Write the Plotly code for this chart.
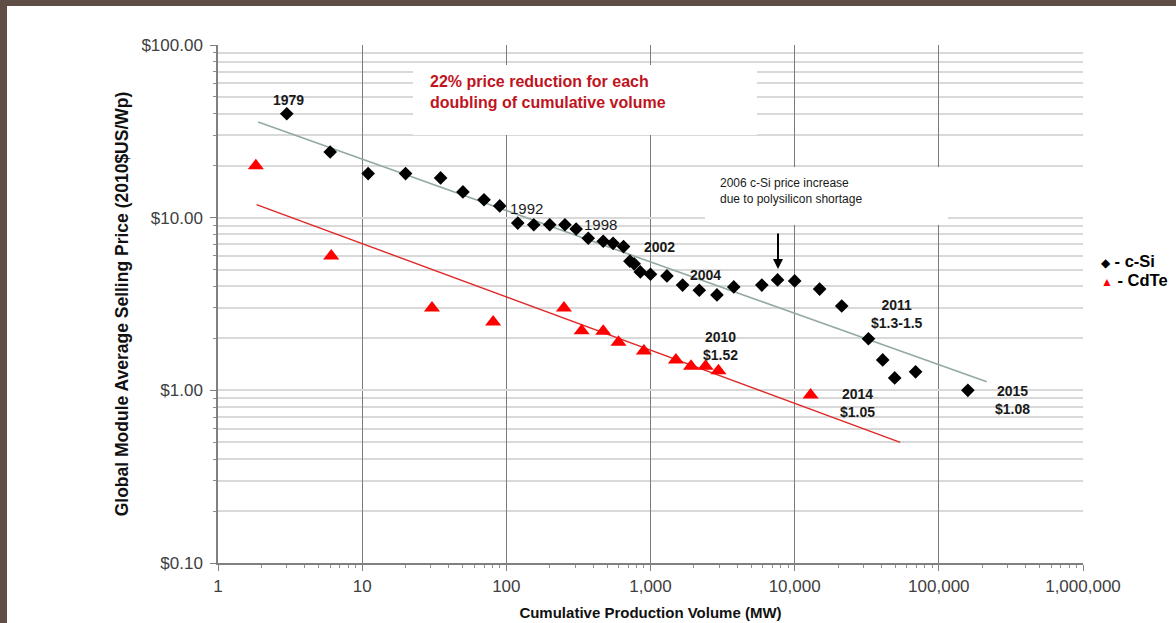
import plotly.graph_objects as go

# ---------------- data ----------------
csi_volume_mw = [3, 6, 11, 20, 35, 50, 70, 90, 120, 155, 200, 255, 305, 370, 470, 550,
                 650, 720, 770, 850, 1000, 1300, 1670, 2180, 2890, 3780, 5920, 7610,
                 10000, 14900, 21200, 32500, 40800, 49400, 69000, 159000]
csi_price = [40, 24, 18, 18, 17, 14.1, 12.7, 11.7, 9.3, 9.1, 9.1, 9.1, 8.6, 7.6, 7.3, 7.1,
             6.8, 5.6, 5.4, 4.85, 4.7, 4.6, 4.07, 3.8, 3.57, 3.97, 4.07, 4.36,
             4.3, 3.86, 3.08, 1.99, 1.5, 1.18, 1.28, 1.0]

cdte_volume_mw = [1.83, 6.1, 30.5, 81, 251, 333, 470, 600, 900, 1500, 1910, 2410, 2960, 12900]
cdte_price = [20, 6.0, 3.0, 2.49, 3.0, 2.21, 2.2, 1.9, 1.69, 1.5, 1.38, 1.38, 1.30, 0.94]

csi_trend_x = [1.9, 215000]
csi_trend_y = [35.8, 1.12]
cdte_trend_x = [1.85, 54000]
cdte_trend_y = [11.9, 0.50]

x_tickvals = [1, 10, 100, 1000, 10000, 100000, 1000000]
x_ticktext = ["1", "10", "100", "1,000", "10,000", "100,000", "1,000,000"]
y_tickvals = [0.1, 1, 10, 100]
y_ticktext = ["$0.10", "$1.00", "$10.00", "$100.00"]

# ---------------- layout geometry (pixels) ----------------
W, H = 1176, 623
L, R, T, B = 218, 1083, 45, 563


def px(x):
    return (x - L) / (R - L)


def py(y):
    return (B - y) / (B - T)


FONT = "Arial, Liberation Sans, sans-serif"

y_minor = [m * 10 ** e for e in (-1, 0, 1) for m in range(2, 10)]
x_minor = [m * 10 ** e for e in range(0, 6) for m in range(2, 10)]

fig = go.Figure()

fig.add_trace(go.Scatter(x=csi_trend_x, y=csi_trend_y, mode="lines",
                         line=dict(color="#93aaa2", width=1.6), showlegend=False,
                         hoverinfo="skip"))
fig.add_trace(go.Scatter(x=cdte_trend_x, y=cdte_trend_y, mode="lines",
                         line=dict(color="#e02828", width=1.4), showlegend=False,
                         hoverinfo="skip"))
fig.add_trace(go.Scatter(x=csi_volume_mw, y=csi_price, mode="markers", name="c-Si",
                         marker=dict(symbol="diamond", size=10.5, color="#000000"),
                         showlegend=False))
fig.add_trace(go.Scatter(x=cdte_volume_mw, y=cdte_price, mode="markers", name="CdTe",
                         marker=dict(symbol="triangle-up", size=14, color="#ff0000"),
                         showlegend=False))

shapes = [
    # white page inside brown frame
    dict(type="rect", xref="paper", yref="paper", layer="below",
         x0=px(7), x1=px(1190), y0=py(640), y1=py(6),
         fillcolor="white", line=dict(width=0)),
    # white boxes behind text blocks
    dict(type="rect", xref="paper", yref="paper", layer="above",
         x0=px(413), x1=px(757), y0=py(135), y1=py(65),
         fillcolor="white", line=dict(width=0)),
    dict(type="rect", xref="paper", yref="paper", layer="above",
         x0=px(705), x1=px(948), y0=py(225), y1=py(167),
         fillcolor="white", line=dict(width=0)),
]

ann = []


def label(text, x, y, bold=True, size=14):
    t = f"<b>{text}</b>" if bold else text
    ann.append(dict(x=x, y=y, xref="paper", yref="paper", text=t, showarrow=False,
                    xanchor="center", yanchor="middle", align="center",
                    font=dict(family=FONT, size=size, color="#1a1a1a")))


label("1979", px(288), py(100))
label("1992", px(526), py(208), bold=False, size=15)
label("1998", px(600), py(224), bold=False, size=15)
label("2002", px(659), py(247))
label("2004", px(705), py(275))
label("2010<br>$1.52", px(720), py(346))
label("2011<br>$1.3-1.5", px(897), py(314))
label("2014<br>$1.05", px(857), py(403))
label("2015<br>$1.08", px(1012), py(400))

ann.append(dict(x=px(428), y=py(91.5), xref="paper", yref="paper",
                text="<b>22% price reduction for each<br>doubling of cumulative volume</b>",
                showarrow=False, xanchor="left", yanchor="middle", align="left",
                font=dict(family=FONT, size=16, color="#c0141e")))
ann.append(dict(x=px(718), y=py(190.5), xref="paper", yref="paper",
                text="2006 c-Si price increase<br>due to polysilicon shortage",
                showarrow=False, xanchor="left", yanchor="middle", align="left",
                font=dict(family=FONT, size=12, color="#1a1a1a")))
# arrow
ann.append(dict(x=px(778), y=py(269), xref="paper", yref="paper", text="",
                showarrow=True, arrowhead=2, arrowsize=1, arrowwidth=2,
                arrowcolor="#000000", ax=0, ay=-37))

# legend (manual)
ann.append(dict(x=px(1099), y=py(261), xref="paper", yref="paper",
                text="<span style='font-size:12px'>◆</span><b> - c-Si</b>",
                showarrow=False, xanchor="left", yanchor="middle", align="left",
                font=dict(family=FONT, size=16.5, color="#000000")))
ann.append(dict(x=px(1099), y=py(280), xref="paper", yref="paper",
                text="<span style='font-size:12px;color:#ff0000'>▲</span><b> - CdTe</b>",
                showarrow=False, xanchor="left", yanchor="middle", align="left",
                font=dict(family=FONT, size=16.5, color="#000000")))

fig.update_layout(
    width=W, height=H,
    margin=dict(l=L, r=W - R, t=T, b=H - B, autoexpand=False),
    paper_bgcolor="#5f4e45",
    plot_bgcolor="white",
    shapes=shapes,
    annotations=ann,
    showlegend=False,
    font=dict(family=FONT),
)

fig.update_xaxes(
    type="log", range=[0, 6],
    tickmode="array", tickvals=x_tickvals, ticktext=x_ticktext,
    tickfont=dict(family=FONT, size=17, color="#404040"),
    ticks="outside", ticklen=6, tickcolor="#808080", tickwidth=1,
    ticklabelstandoff=1,
    showgrid=True, gridcolor="#7a7a7a", gridwidth=1,
    showline=True, linecolor="#808080", linewidth=1.5,
    zeroline=False,
    minor=dict(tickvals=x_minor, ticks="outside", ticklen=3, tickcolor="#909090",
               showgrid=False),
    title=dict(text="<b>Cumulative Production Volume (MW)</b>",
               font=dict(family=FONT, size=15, color="#111111"), standoff=12),
)

fig.update_yaxes(
    type="log", range=[-1, 2],
    tickmode="array", tickvals=y_tickvals, ticktext=y_ticktext,
    tickfont=dict(family=FONT, size=17, color="#404040"),
    ticks="outside", ticklen=6, tickcolor="#808080", tickwidth=1,
    ticklabelstandoff=4,
    showgrid=True, gridcolor="#d9d9d9", gridwidth=1.6,
    showline=True, linecolor="#808080", linewidth=1.5,
    zeroline=False,
    minor=dict(tickvals=y_minor, ticks="outside", ticklen=3, tickcolor="#909090",
               showgrid=True, gridcolor="#d9d9d9", gridwidth=1.6),
    title=dict(text="<b>Global Module Average Selling Price (2010$US/Wp)</b>",
               font=dict(family=FONT, size=17.5, color="#111111"), standoff=8),
)

fig.write_html("out.html",
               config={"displayModeBar": False},
               post_script="document.body.style.margin='0px';"
                           "document.body.style.overflow='hidden';")
